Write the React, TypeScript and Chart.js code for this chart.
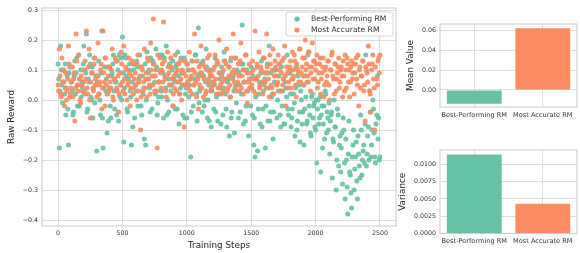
import React, { useEffect, useRef } from 'react';
import { Chart, registerables } from 'chart.js';

Chart.register(...registerables);

const FONT = '"DejaVu Sans", "Liberation Sans", sans-serif';
const GREEN = '#66c2a5';
const ORANGE = '#fc8d62';

const seriesNames = ['Best-Performing RM', 'Most Accurate RM'];

const stepTicks = [0, 500, 1000, 1500, 2000, 2500];
const stepTickLabels = ['0', '500', '1000', '1500', '2000', '2500'];
const rewardTicks = [-0.4, -0.3, -0.2, -0.1, 0, 0.1, 0.2, 0.3];
const rewardTickLabels = ['−0.4', '−0.3', '−0.2', '−0.1', '0.0', '0.1', '0.2', '0.3'];

// Raw reward logged at steps 0, 10, 20, ..., 2500
const bestRewards = [
  0.12, -0.16, 0.18, 0.05, 0.10, 0.02, -0.05, 0.08, -0.15, 0.11,
  0.06, 0.03, -0.04, 0.13, 0.09, -0.02, 0.15, 0.07, 0.01, 0.04,
  0.18, 0.10, 0.22, -0.03, 0.06, 0.12, 0.00, -0.06, 0.14, 0.05,
  -0.17, 0.08, 0.02, -0.05, 0.23, -0.16, 0.11, 0.03, -0.11, -0.07,
  0.04, -0.06, 0.09, 0.15, -0.03, 0.06, 0.13, -0.07, 0.01, 0.14,
  0.21, -0.14, 0.15, 0.08, -0.04, 0.10, 0.03, -0.15, -0.09, 0.12,
  0.05, 0.13, -0.02, 0.07, 0.11, -0.05, 0.02, -0.13, -0.15, 0.16,
  0.09, 0.04, 0.14, -0.03, 0.12, 0.06, 0.17, -0.05, 0.01, 0.10,
  0.03, 0.15, -0.06, 0.08, 0.18, 0.00, -0.04, 0.11, 0.05, 0.13,
  0.07, -0.03, 0.12, 0.16, -0.08, 0.04, 0.09, -0.05, 0.14, 0.02,
  -0.06, 0.10, 0.05, -0.19, 0.13, -0.02, 0.07, 0.15, -0.07, 0.24,
  0.03, 0.12, -0.04, 0.08, 0.00, 0.17, -0.06, 0.05, 0.10, -0.09,
  0.06, -0.03, 0.14, 0.01, -0.07, 0.09, 0.04, 0.11, -0.05, 0.16,
  0.02, -0.09, 0.07, -0.12, 0.13, -0.04, 0.08, -0.11, 0.05, 0.10,
  -0.06, 0.03, 0.12, 0.25, -0.08, 0.06, -0.02, 0.09, -0.12, 0.04,
  0.11, -0.05, -0.15, -0.19, 0.07, -0.17, 0.02, -0.08, 0.13, -0.03,
  0.05, -0.16, 0.09, -0.07, 0.18, -0.04, 0.01, -0.13, 0.06, 0.10,
  -0.06, 0.03, 0.12, -0.09, -0.02, 0.07, -0.08, 0.04, 0.15, -0.05,
  0.09, -0.09, -0.03, 0.02, -0.12, 0.11, -0.07, 0.05, -0.14, 0.00,
  -0.04, -0.15, 0.08, -0.08, 0.15, -0.02, -0.11, 0.01, -0.06, -0.01,
  -0.10, -0.21, 0.00, -0.06, -0.24, -0.02, -0.08, -0.13, 0.02, -0.04,
  -0.10, -0.18, -0.05, -0.26, -0.14, -0.09, -0.30, -0.03, -0.22, -0.12,
  -0.16, -0.28, -0.10, -0.33, -0.20, -0.38, -0.07, -0.25, -0.36, -0.15,
  -0.30, -0.19, -0.27, -0.12, -0.22, -0.05, -0.25, -0.17, -0.21, 0.15,
  -0.18, -0.09, 0.03, -0.19, -0.10, -0.03, -0.19, -0.08, 0.08, -0.06,
  -0.19,
];

// Raw reward logged at steps 5, 15, 25, ..., 2495
const bestRewardsMid = [
  0.07, 0.03, 0.10, -0.01, 0.06, 0.12, 0.04, -0.03, 0.09, 0.01,
  0.11, -0.05, 0.08, 0.02, 0.14, 0.05, -0.02, 0.10, 0.06, 0.12,
  0.03, 0.09, -0.04, 0.07, 0.15, 0.01, 0.11, 0.04, -0.01, 0.08,
  0.06, 0.13, 0.00, 0.09, -0.06, 0.04, 0.14, 0.07, 0.02, 0.11,
  -0.02, 0.08, 0.12, 0.03, 0.06, -0.05, 0.10, 0.15, 0.05, 0.00,
  0.09, 0.04, 0.14, -0.03, 0.07, 0.12, 0.01, 0.06, 0.10, -0.06,
  0.03, 0.11, 0.06, 0.15, -0.02, 0.08, 0.04, 0.12, 0.00, 0.07,
  0.10, -0.04, 0.05, 0.13, 0.08, 0.02, 0.11, -0.01, 0.06, 0.15,
  0.01, 0.09, 0.14, 0.04, -0.05, 0.07, 0.12, 0.03, 0.10, -0.02,
  0.06, 0.11, -0.03, 0.08, 0.02, 0.14, 0.05, 0.09, -0.06, 0.04,
  0.12, 0.01, 0.07, -0.04, 0.10, 0.05, 0.15, 0.02, 0.08, -0.01,
  0.04, 0.09, 0.13, -0.02, 0.06, 0.11, 0.00, -0.07, 0.08, 0.03,
  0.10, 0.05, -0.04, 0.12, 0.02, 0.07, -0.08, 0.09, 0.04, 0.13,
  -0.03, 0.06, 0.11, 0.01, -0.06, 0.08, 0.03, 0.14, -0.01, 0.05,
  0.09, -0.04, 0.02, 0.12, 0.06, -0.07, 0.10, 0.03, 0.07, -0.02,
  0.04, 0.08, -0.06, 0.01, 0.11, -0.03, 0.06, 0.09, -0.09, 0.03,
  0.07, -0.02, 0.12, 0.04, -0.07, 0.09, 0.02, -0.04, 0.10, 0.05,
  0.00, 0.08, -0.05, 0.11, 0.03, -0.08, 0.06, 0.01, -0.03, 0.09,
  0.02, -0.06, 0.07, -0.01, 0.04, -0.10, 0.08, -0.04, 0.03, -0.08,
  0.05, -0.03, 0.01, -0.07, 0.06, -0.05, -0.12, 0.02, -0.02, -0.09,
  0.00, -0.03, -0.08, 0.01, -0.05, -0.16, -0.02, 0.03, -0.11, -0.06,
  -0.01, -0.07, -0.04, -0.13, 0.00, -0.09, -0.20, -0.05, -0.15, -0.24,
  -0.11, -0.06, -0.21, -0.13, -0.29, -0.18, -0.24, -0.31, -0.19, -0.10,
  -0.23, -0.14, -0.33, -0.18, -0.26, -0.10, -0.20, -0.15, -0.08, -0.22,
  -0.12, -0.20, -0.04, -0.15, 0.00, -0.11, -0.21, -0.05, -0.13, -0.20,
];

// Raw reward logged at steps 0, 10, 20, ..., 2500
const accurateRewards = [
  0.05, 0.17, 0.02, 0.14, 0.06, -0.02, 0.09, 0.03, 0.18, 0.01,
  0.04, 0.11, 0.07, -0.07, 0.22, 0.05, 0.15, 0.00, 0.08, 0.03,
  0.06, 0.13, 0.23, 0.02, 0.17, -0.06, 0.09, 0.04, 0.12, 0.07,
  0.01, 0.19, 0.05, 0.10, -0.03, 0.23, 0.06, 0.14, 0.02, 0.08,
  0.11, 0.04, 0.17, 0.00, 0.07, 0.13, 0.03, -0.04, 0.09, 0.16,
  0.06, 0.18, 0.02, 0.10, 0.05, 0.14, -0.02, 0.08, 0.12, 0.04,
  0.09, 0.00, 0.15, 0.06, -0.10, 0.11, 0.03, 0.17, 0.07, 0.01,
  0.13, 0.05, 0.19, 0.08, 0.27, 0.03, 0.10, -0.16, 0.06, 0.14,
  0.04, 0.12, 0.26, 0.07, 0.01, 0.16, 0.09, 0.05, 0.11, -0.02,
  0.08, 0.15, 0.03, 0.10, 0.06, 0.13, 0.00, 0.09, -0.09, 0.05,
  0.12, 0.04, 0.16, 0.07, 0.02, 0.10, 0.22, 0.06, 0.13, -0.03,
  0.05, 0.18, 0.08, 0.01, 0.11, 0.03, 0.14, 0.07, 0.09, 0.04,
  0.10, 0.06, 0.15, 0.02, 0.12, 0.20, 0.05, 0.08, 0.03, 0.13,
  0.07, 0.17, 0.04, 0.11, 0.01, 0.09, 0.22, 0.06, 0.14, 0.03,
  0.12, 0.05, 0.19, 0.08, 0.02, 0.10, 0.15, -0.01, 0.06, 0.04,
  0.09, 0.13, 0.03, 0.23, 0.07, 0.11, 0.16, 0.05, 0.10, 0.02,
  0.14, 0.06, 0.22, 0.09, 0.01, 0.12, 0.04, 0.17, 0.08, 0.11,
  0.05, 0.15, 0.10, 0.03, 0.13, 0.07, 0.18, -0.02, 0.09, 0.06,
  0.11, 0.04, 0.16, 0.08, 0.13, 0.01, 0.10, 0.06, 0.17, 0.09,
  0.14, 0.05, 0.20, 0.12, 0.08, 0.16, 0.03, 0.11, 0.07, 0.13,
  0.10, 0.15, 0.06, 0.12, 0.02, 0.09, 0.14, 0.05, 0.11, 0.08,
  0.13, 0.00, 0.10, 0.16, 0.07, 0.12, 0.03, 0.09, 0.14, 0.06,
  0.11, 0.01, 0.08, 0.15, 0.04, 0.12, 0.10, 0.06, 0.13, 0.09,
  0.02, 0.12, 0.07, 0.15, 0.10, 0.04, 0.08, 0.13, 0.05, 0.11,
  0.09, 0.18, 0.03, -0.04, 0.12, 0.07, -0.10, 0.23, 0.05, 0.14,
  0.15,
];

// Raw reward logged at steps 5, 15, 25, ..., 2495
const accurateRewardsMid = [
  0.03, 0.08, 0.01, 0.06, 0.10, 0.04, 0.00, 0.07, 0.12, 0.02,
  0.06, 0.01, 0.09, 0.04, 0.13, 0.03, 0.07, -0.01, 0.05, 0.10,
  0.02, 0.07, 0.04, 0.11, 0.00, 0.06, 0.09, 0.03, 0.14, 0.05,
  0.08, 0.02, 0.06, 0.12, 0.04, 0.09, -0.02, 0.05, 0.11, 0.03,
  0.06, 0.10, 0.01, 0.07, 0.14, 0.04, 0.08, 0.02, 0.05, 0.12,
  0.03, 0.07, 0.11, 0.00, 0.06, 0.09, 0.04, 0.13, 0.02, 0.07,
  0.05, 0.12, 0.03, 0.08, 0.01, 0.10, 0.06, 0.04, 0.09, 0.14,
  0.07, 0.02, 0.10, 0.05, 0.12, 0.08, 0.03, 0.15, 0.06, 0.09,
  0.10, 0.06, 0.13, 0.03, 0.08, 0.11, 0.05, 0.14, 0.07, 0.02,
  0.04, 0.09, 0.06, 0.12, 0.02, 0.07, 0.10, 0.05, 0.13, 0.08,
  0.06, 0.10, 0.03, 0.08, 0.13, 0.05, 0.09, 0.01, 0.07, 0.11,
  0.09, 0.04, 0.12, 0.07, 0.02, 0.10, 0.06, 0.15, 0.03, 0.08,
  0.05, 0.11, 0.07, 0.13, 0.04, 0.09, 0.02, 0.06, 0.10, 0.07,
  0.12, 0.03, 0.08, 0.05, 0.14, 0.07, 0.10, 0.04, 0.09, 0.06,
  0.08, 0.13, 0.04, 0.10, 0.06, 0.15, 0.03, 0.09, 0.12, 0.07,
  0.05, 0.10, 0.07, 0.02, 0.12, 0.08, 0.04, 0.11, 0.06, 0.14,
  0.09, 0.04, 0.11, 0.07, 0.15, 0.05, 0.10, 0.02, 0.13, 0.08,
  0.06, 0.12, 0.03, 0.09, 0.05, 0.14, 0.08, 0.11, 0.04, 0.10,
  0.13, 0.07, 0.10, 0.15, 0.05, 0.12, 0.09, 0.17, 0.06, 0.11,
  0.08, 0.14, 0.10, 0.06, 0.16, 0.11, 0.09, 0.19, 0.13, 0.07,
  0.12, 0.04, 0.09, 0.14, 0.07, 0.11, 0.01, 0.10, 0.06, 0.13,
  0.05, 0.10, 0.15, 0.08, 0.02, 0.12, 0.07, 0.11, 0.04, 0.10,
  0.08, 0.13, 0.03, 0.10, 0.14, 0.06, 0.01, 0.11, 0.07, 0.12,
  0.09, 0.14, 0.05, -0.02, 0.11, 0.08, 0.13, 0.03, -0.07, 0.10,
  0.06, 0.12, 0.02, 0.10, 0.15, 0.04, 0.11, 0.07, 0.13, 0.09,
];

const LOG_EVERY = 10;
const MID_OFFSET = 5;

const meanValues = [-0.0138, 0.0623];
const meanTicks = [0, 0.02, 0.04, 0.06];
const meanTickLabels = ['0.00', '0.02', '0.04', '0.06'];

const varianceValues = [0.01144, 0.00431];
const varianceTicks = [0, 0.0025, 0.005, 0.0075, 0.01];
const varianceTickLabels = ['0.0000', '0.0025', '0.0050', '0.0075', '0.0100'];

const GRID = '#dedede';
const SPINE = '#cfcfcf';
const TEXT = '#333333';

function toPoints(main: number[], mid: number[]) {
  const pts: { x: number; y: number }[] = [];
  main.forEach((y, i) => pts.push({ x: i * LOG_EVERY, y }));
  mid.forEach((y, i) => pts.push({ x: i * LOG_EVERY + MID_OFFSET, y }));
  return pts;
}

const framePlugin = {
  id: 'frame',
  beforeDatasetsDraw(chart: any) {
    const { ctx, chartArea: a } = chart;
    ctx.save();
    ctx.strokeStyle = SPINE;
    ctx.lineWidth = 1.1;
    ctx.strokeRect(a.left, a.top, a.right - a.left, a.bottom - a.top);
    ctx.restore();
  },
};

const insetLegend = {
  id: 'insetLegend',
  afterDraw(chart: any) {
    const { ctx, chartArea: a } = chart;
    const x0 = a.right - 110;
    const y0 = a.top + 4;
    const w = 107;
    const h = 24;
    ctx.save();
    ctx.beginPath();
    if (ctx.roundRect) ctx.roundRect(x0, y0, w, h, 2);
    else ctx.rect(x0, y0, w, h);
    ctx.fillStyle = 'rgba(255,255,255,0.85)';
    ctx.fill();
    ctx.strokeStyle = '#d6d6d6';
    ctx.lineWidth = 1;
    ctx.stroke();
    const colors = [GREEN, ORANGE];
    seriesNames.forEach((name, i) => {
      const cy = y0 + 7 + i * 11;
      ctx.beginPath();
      ctx.arc(x0 + 11, cy, 2.6, 0, Math.PI * 2);
      ctx.fillStyle = colors[i];
      ctx.fill();
      ctx.fillStyle = TEXT;
      ctx.font = `7.6px ${FONT}`;
      ctx.textBaseline = 'middle';
      ctx.textAlign = 'left';
      ctx.fillText(name, x0 + 25, cy + 0.5);
    });
    ctx.restore();
  },
};

function fixedTicks(values: number[]) {
  return (scale: any) => {
    scale.ticks = values.map((v) => ({ value: v }));
  };
}

export default function App() {
  const mainRef = useRef<HTMLCanvasElement>(null);
  const meanRef = useRef<HTMLCanvasElement>(null);
  const varRef = useRef<HTMLCanvasElement>(null);

  useEffect(() => {
    const charts: Chart[] = [];

    charts.push(
      new Chart(mainRef.current as HTMLCanvasElement, {
        type: 'scatter',
        data: {
          datasets: [
            {
              label: seriesNames[0],
              data: toPoints(bestRewards, bestRewardsMid),
              backgroundColor: 'rgba(102,194,165,0.92)',
              borderWidth: 0,
              pointRadius: 2.5,
              order: 1,
            },
            {
              label: seriesNames[1],
              data: toPoints(accurateRewards, accurateRewardsMid),
              backgroundColor: 'rgba(252,141,98,0.92)',
              borderWidth: 0,
              pointRadius: 2.5,
              order: 0,
            },
          ],
        },
        options: {
          animation: false,
          responsive: false,
          maintainAspectRatio: false,
          layout: { padding: { left: 0, right: 184, top: 8, bottom: 0 } },
          plugins: { legend: { display: false }, tooltip: { enabled: false } },
          scales: {
            x: {
              type: 'linear',
              min: -125,
              max: 2625,
              afterBuildTicks: fixedTicks(stepTicks),
              afterFit: (s: any) => {
                s.height = 27;
              },
              grid: { color: GRID, drawTicks: false },
              border: { display: false },
              ticks: {
                autoSkip: false,
                maxRotation: 0,
                padding: 3.5,
                color: TEXT,
                font: { family: FONT, size: 6.3 },
                callback: (_v: any, i: number) => stepTickLabels[i],
              },
              title: {
                display: true,
                text: 'Training Steps',
                color: '#262626',
                font: { family: FONT, size: 8.8 },
                padding: { top: 0, bottom: 2.2 },
              },
            },
            y: {
              type: 'linear',
              min: -0.42,
              max: 0.307,
              afterBuildTicks: fixedTicks(rewardTicks),
              afterFit: (s: any) => {
                s.width = 42;
              },
              grid: { color: GRID, drawTicks: false },
              border: { display: false },
              ticks: {
                autoSkip: false,
                padding: 4,
                color: TEXT,
                font: { family: FONT, size: 6.3 },
                callback: (_v: any, i: number) => rewardTickLabels[i],
              },
              title: {
                display: true,
                text: 'Raw Reward',
                color: '#262626',
                font: { family: FONT, size: 8.8 },
                padding: { top: 6.7, bottom: 0 },
              },
            },
          },
        } as any,
        plugins: [framePlugin, insetLegend],
      })
    );

    const barChart = (
      canvas: HTMLCanvasElement,
      values: number[],
      pad: any,
      yMin: number,
      yMax: number,
      ticks: number[],
      tickLabels: string[],
      yWidth: number,
      xHeight: number,
      xPad: number,
      title: string
    ) =>
      new Chart(canvas, {
        type: 'bar',
        data: {
          labels: seriesNames,
          datasets: [
            {
              data: values,
              backgroundColor: [GREEN, ORANGE],
              borderWidth: 0,
              barPercentage: 0.8,
              categoryPercentage: 1,
            },
          ],
        },
        options: {
          animation: false,
          responsive: false,
          maintainAspectRatio: false,
          layout: { padding: pad },
          plugins: { legend: { display: false }, tooltip: { enabled: false } },
          scales: {
            x: {
              afterFit: (s: any) => {
                s.height = xHeight;
              },
              grid: { color: GRID, drawTicks: false, offset: false },
              border: { display: false },
              ticks: {
                autoSkip: false,
                maxRotation: 0,
                padding: xPad,
                color: TEXT,
                font: { family: FONT, size: 6.6 },
              },
            },
            y: {
              min: yMin,
              max: yMax,
              afterBuildTicks: fixedTicks(ticks),
              afterFit: (s: any) => {
                s.width = yWidth;
              },
              grid: { color: GRID, drawTicks: false },
              border: { display: false },
              ticks: {
                autoSkip: false,
                padding: 4,
                color: TEXT,
                font: { family: FONT, size: 6.3 },
                callback: (_v: any, i: number) => tickLabels[i],
              },
              title: {
                display: true,
                text: title,
                color: '#262626',
                font: { family: FONT, size: 8.8 },
                padding: { top: 5.4, bottom: 0 },
              },
            },
          },
        } as any,
        plugins: [framePlugin],
      });

    charts.push(
      barChart(
        meanRef.current as HTMLCanvasElement,
        meanValues,
        { left: 400, right: 3, top: 24, bottom: 128 },
        -0.0172,
        0.0667,
        meanTicks,
        meanTickLabels,
        40,
        18,
        4,
        'Mean Value'
      )
    );

    charts.push(
      barChart(
        varRef.current as HTMLCanvasElement,
        varianceValues,
        { left: 392, right: 3, top: 150, bottom: 0 },
        0,
        0.0121,
        varianceTicks,
        varianceTickLabels,
        48,
        19.5,
        3.5,
        'Variance'
      )
    );

    return () => charts.forEach((c) => c.destroy());
  }, []);

  const canvasStyle: React.CSSProperties = { position: 'absolute', left: 0, top: 0 };

  return (
    <div style={{ position: 'fixed', left: 0, top: 0, width: 580, height: 253, background: '#ffffff' }}>
      <canvas ref={mainRef} width={580} height={253} style={canvasStyle} />
      <canvas ref={meanRef} width={580} height={253} style={canvasStyle} />
      <canvas ref={varRef} width={580} height={253} style={canvasStyle} />
    </div>
  );
}
